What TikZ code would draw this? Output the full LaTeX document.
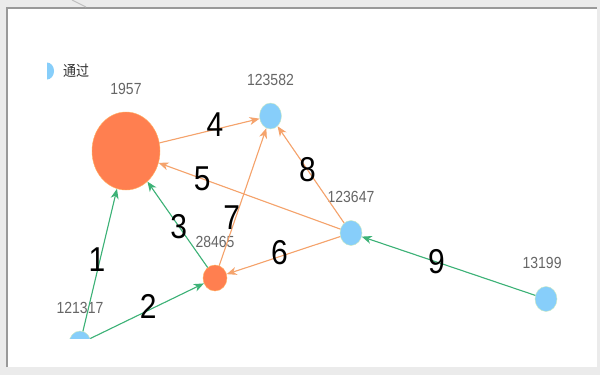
\documentclass[tikz,border=0pt]{standalone}
\usepackage{fontspec}
\setmainfont{Liberation Sans}
\newfontfamily\cjk{Noto Sans CJK SC}
\usetikzlibrary{arrows.meta,shapes.geometric}
\definecolor{nodeorange}{HTML}{FF7F50}
\definecolor{rimorange}{HTML}{FFB060}
\definecolor{nodeblue}{HTML}{87CEFA}
\definecolor{rimblue}{HTML}{CDEBC0}
\definecolor{edgeorange}{HTML}{F5A36C}
\definecolor{edgegreen}{HTML}{3DB277}
\newcommand{\tall}[1]{\scalebox{1}[1.15]{#1}}

\begin{document}
\begin{tikzpicture}[x=1pt,y=-1pt,
   onode/.style={ellipse,draw=rimorange,fill=nodeorange,inner sep=0pt,
                 minimum width=24pt,minimum height=26pt},
   bnode/.style={ellipse,draw=rimblue,fill=nodeblue,inner sep=0pt,
                 minimum width=22pt,minimum height=25pt},
   nlbl/.style={font=\fontsize{14}{14}\selectfont,text=black!60,inner sep=0pt},
   elbl/.style={font=\fontsize{30}{30}\selectfont,inner sep=0pt},
   label distance=17pt,
   arr/.style={line width=1.1pt,-{Stealth[length=10pt,width=8pt,inset=3pt]}},
   oedge/.style={arr,draw=edgeorange,fill=edgeorange},
   gedge/.style={arr,draw=edgegreen,fill=edgegreen}]
  \useasboundingbox (0,0) rectangle (600,375);
  % frame
  \fill[black!8] (0,0) rectangle (600,375);
  \fill[white] (8,8) rectangle (597,367);
  \draw[black!40,line width=1.5pt] (7,367) -- (7,8) -- (597,8);
  \draw[black!25,line width=1pt] (72,0) -- (86,7);
  \begin{scope}
    \clip (47,0) rectangle (560,338);
    % legend
    \node[ellipse,fill=nodeblue,minimum width=14pt,minimum height=17pt,inner sep=0pt] (key) at (47,71) {};
    \node[font=\cjk\fontsize{13}{13}\selectfont,text=black!80,anchor=west,inner sep=0pt] (keytext) at (63,71) {\tall{通过}};
    % nodes
    \node[onode,minimum width=68pt,minimum height=78pt,label={[nlbl]above:\tall{1957}}] (n1957) at (126,151) {};
    \node[bnode,minimum height=26pt,label={[nlbl]above:\tall{123582}}] (n123582) at (270.5,116) {};
    \node[bnode,label={[nlbl]above:\tall{123647}}] (n123647) at (351,233) {};
    \node[onode,label={[nlbl]above:\tall{28465}}] (n28465) at (215,278) {};
    \node[bnode,label={[nlbl]above:\tall{121317}}] (n121317) at (80,343.5) {};
    \node[bnode,label={[nlbl]above:\tall{131995}}] (n131995) at (546,299) {};
    % edges
    \draw[gedge] (n121317) -- node[elbl,pos=0.5,xshift=-3pt] {\tall{1}} (n1957);
    \draw[gedge] (n121317) -- node[elbl,pos=0.51,yshift=4pt] {\tall{2}} (n28465);
    \draw[gedge] (n28465) -- node[elbl,pos=0.48] {\tall{3}} (n1957);
    \draw[oedge] (n1957) -- node[elbl,pos=0.555,yshift=5pt] {\tall{4}} (n123582);
    \draw[oedge] (n123647) -- node[elbl,pos=0.76] {\tall{5}} (n1957);
    \draw[oedge] (n123647) -- node[elbl,pos=0.535,yshift=4pt] {\tall{6}} (n28465);
    \draw[oedge] (n28465) -- node[elbl,pos=0.35,xshift=-4pt] {\tall{7}} (n123582);
    \draw[oedge] (n123647) -- node[elbl,pos=0.55] {\tall{8}} (n123582);
    \draw[gedge] (n131995) -- node[elbl,pos=0.57] {\tall{9}} (n123647);
  \end{scope}
\end{tikzpicture}
\end{document}
